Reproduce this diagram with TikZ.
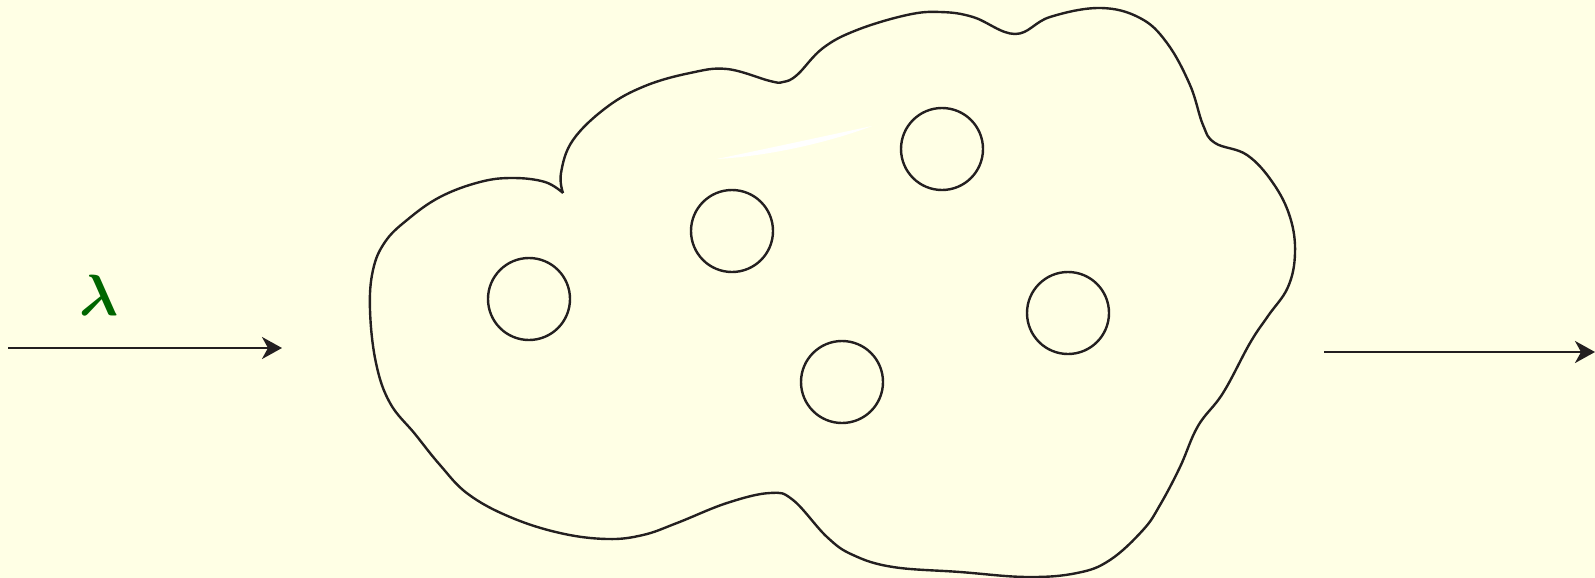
\documentclass[tikz,border=0pt]{standalone}
\usepackage{amsmath}
\usetikzlibrary{arrows.meta}
\definecolor{bgyellow}{RGB}{255,255,229}
\definecolor{ink}{RGB}{35,31,32}
\definecolor{lamgreen}{RGB}{0,102,0}
\tikzset{
  outline/.style={draw=ink, line width=1.2pt, line join=round},
  hole/.style={circle, draw=ink, line width=1.2pt, minimum size=41pt, inner sep=0pt},
  flow/.style={draw=ink, line width=1.2pt, -{Stealth[length=10pt, width=11pt, inset=3pt]}},
}
\begin{document}
\begin{tikzpicture}[x=0.5pt, y=-0.5pt]
\fill[bgyellow] (0,0) rectangle (1595,578);
\useasboundingbox (0,0) rectangle (1595,578);

% blob
\draw[outline] plot[smooth, tension=0.65] coordinates {
(563,193) (561,173) (573,140) (607,107) (645,86) (690,73) (727,69) (770,81) (783,82) (797,75) (823,48) (857,30) (907,15) (940,12) (973,17) (1015,34) (1050,17) (1100,8) (1140,18) (1167,43) (1190,85) (1203,125) (1215,143) (1247,155) (1273,183) (1290,217) (1295,253) (1288,287) (1268,316) (1250,343) (1223,393) (1198,426) (1180,467) (1160,505) (1143,530) (1110,560) (1077,573) (1027,577) (960,572) (893,567) (853,555) (827,537) (793,500) (770,493) (727,503) (677,523) (643,535) (607,539) (560,533) (510,517) (468,494) (440,465) (415,434) (390,403) (376,363) (370,310) (373,270) (385,242) (407,220) (440,197) (480,182) (513,178) (545,182) (563,193)};

% white highlight stroke
\fill[white] (717,159) .. controls (770,148) and (830,135) .. (872,126)
  .. controls (830,142) and (770,156) .. (717,159) -- cycle;

% holes
\node[hole] (c1) at (529,299) {};
\node[hole] (c2) at (732,231) {};
\node[hole] (c3) at (942,149) {};
\node[hole] (c4) at (1068,313) {};
\node[hole] (c5) at (842,382) {};

% arrows
\coordinate (la) at (8,348);
\coordinate (lb) at (282,348);
\coordinate (ra) at (1324,352);
\coordinate (rb) at (1595,352);
\draw[flow] (la) -- (lb);
\draw[flow] (ra) -- (rb);

\node[text=lamgreen, inner sep=0pt, scale=1.17] (lam) at (99,295) {\Huge$\boldsymbol{\lambda}$};
\end{tikzpicture}
\end{document}
